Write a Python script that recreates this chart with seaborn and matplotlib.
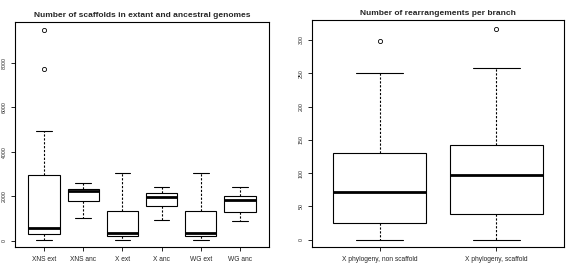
import pandas as pd
import seaborn as sns
from matplotlib import pyplot as plt

# left panel: scaffold counts
scaf_groups = ['XNS ext', 'XNS anc', 'X ext', 'X anc', 'WG ext', 'WG anc']
xns_ext = [20, 150, 250, 305, 400, 500, 575, 1200, 2200, 2970, 4920, 7710, 9490]
xns_anc = [1010, 1795, 2210, 2320, 2570]
x_ext = [20, 200, 340, 1350, 3040]
x_anc = [905, 1550, 1955, 2120, 2420]
wg_ext = [20, 200, 320, 1350, 3040]
wg_anc = [860, 1295, 1820, 2015, 2420]

# right panel: rearrangements per branch
rear_groups = ['X phylogeny, non scaffold', 'X phylogeny, scaffold']
non_scaf = [0, 10, 25, 50, 72, 100, 130, 250, 298]
scaf = [0, 20, 39, 70, 97, 120, 142, 258, 316]

scaf_df = pd.DataFrame({
    'group': sum([[g] * len(v) for g, v in zip(scaf_groups, [xns_ext, xns_anc, x_ext, x_anc, wg_ext, wg_anc])], []),
    'value': xns_ext + xns_anc + x_ext + x_anc + wg_ext + wg_anc,
})
rear_df = pd.DataFrame({
    'group': [rear_groups[0]] * len(non_scaf) + [rear_groups[1]] * len(scaf),
    'value': non_scaf + scaf,
})

sns.set_style('white')
plt.rcParams['font.family'] = ['Liberation Sans', 'DejaVu Sans']

fig = plt.figure(figsize=(5.66, 2.65), dpi=100)
ax1 = fig.add_axes([15 / 566, 1 - 247 / 265, 254 / 566, 225 / 265])
ax2 = fig.add_axes([312 / 566, 1 - 247 / 265, 252 / 566, 227 / 265])

box_kws = dict(
    x='group', y='value', color='white', saturation=1, linecolor='black',
    linewidth=0.8, width=0.8, whis=1.5, fliersize=3,
    medianprops=dict(linewidth=2, color='black'),
    whiskerprops=dict(linestyle=(0, (2, 1.5)), linewidth=0.8),
    flierprops=dict(marker='o', markerfacecolor='none', markeredgecolor='black', markeredgewidth=0.6),
)

sns.boxplot(data=scaf_df, order=scaf_groups, ax=ax1, **box_kws)
sns.boxplot(data=rear_df, order=rear_groups, ax=ax2, **box_kws)

ax1.set_xlim(-0.74, 5.74)
ax1.set_ylim(-292, 9834)
ax1.set_yticks([0, 2000, 4000, 6000, 8000])
ax2.set_xlim(-0.58, 1.58)
ax2.set_ylim(-11, 330)
ax2.set_yticks([0, 50, 100, 150, 200, 250, 300])

ax1.set_title('Number of scaffolds in extant and ancestral genomes', fontsize=6, fontweight='bold', pad=3.5)
ax2.set_title('Number of rearrangements per branch', fontsize=6, fontweight='bold', pad=3.5)

for ax in (ax1, ax2):
    ax.set_xlabel('')
    ax.set_ylabel('')
    for s in ax.spines.values():
        s.set_color('black')
        s.set_linewidth(0.8)
    ax.tick_params(axis='both', direction='out', length=3, width=0.6, color='black',
                   bottom=True, left=True)
    ax.tick_params(axis='x', labelsize=4.8, pad=3.5)
    ax.tick_params(axis='y', labelsize=3.8, pad=3)
    for lab in ax.get_yticklabels():
        lab.set_rotation(90)
        lab.set_va('center')

fig.savefig('out.png', dpi=100)
